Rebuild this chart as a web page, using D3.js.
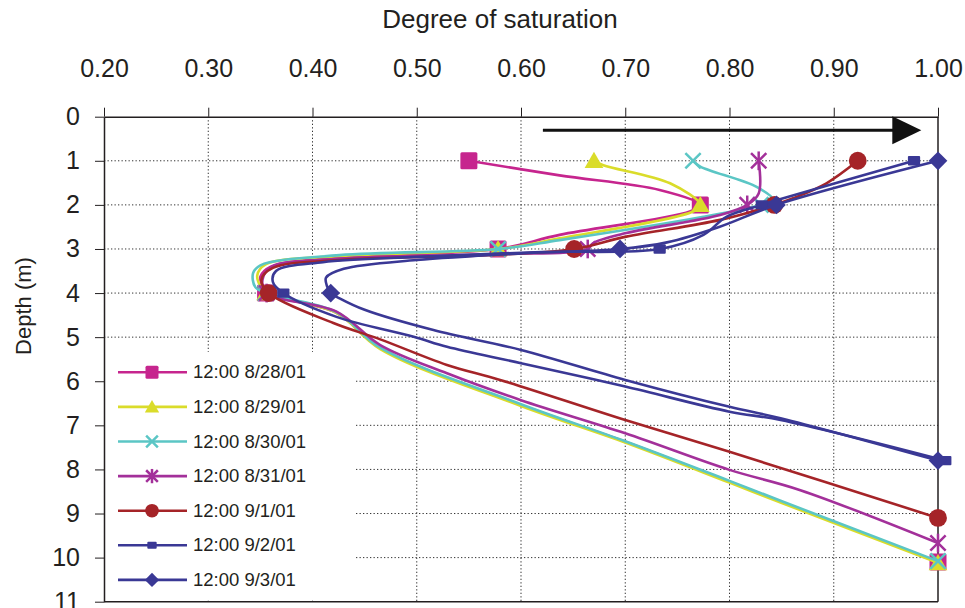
<!DOCTYPE html>
<html>
<head>
<meta charset="utf-8">
<script src="https://cdn.jsdelivr.net/npm/d3@7"></script>
<style>
  body { margin: 0; background: #fff; }
  svg { font-family: "Liberation Sans", Arial, sans-serif; }
  .tick text { fill: #231f20; }
</style>
</head>
<body>
<div id="chart"></div>
<script>
// data: [degree of saturation, depth (m)]
const seriesNames = ['12:00 8/28/01', '12:00 8/29/01', '12:00 8/30/01', '12:00 8/31/01',
    '12:00 9/1/01', '12:00 9/2/01', '12:00 9/3/01'];
const seriesColors = ['#c6258e', '#dadc2a', '#5bc6c5', '#a3309a', '#a52428', '#3a3895', '#3a3895'];
const seriesSymbols = ['square', 'triangle', 'cross', 'asterisk', 'circle', 'smallSquare', 'diamond'];

const line_0828 = [[0.55, 1], [0.637, 1.33], [0.733, 1.66], [0.772, 2], [0.762, 2.15], [0.637, 2.68],
    [0.578, 3], [0.426, 3.2], [0.36, 3.4], [0.35, 3.63], [0.352, 3.85], [0.355, 4], [0.423, 4.45],
    [0.465, 5.25], [0.6, 6.54], [0.7, 7.37], [0.8, 8.28], [0.849, 8.73], [1.0, 10.1]];
const line_0829 = [[0.67, 1], [0.679, 1.1], [0.743, 1.51], [0.772, 2], [0.765, 2.15], [0.637, 2.76],
    [0.578, 3], [0.426, 3.16], [0.355, 3.35], [0.347, 3.6], [0.35, 3.85], [0.355, 4], [0.423, 4.45],
    [0.465, 5.27], [0.6, 6.56], [0.7, 7.39], [0.8, 8.3], [0.849, 8.75], [1.0, 10.12]];
const line_0830 = [[0.765, 1], [0.772, 1.13], [0.826, 1.59], [0.842, 1.89], [0.83, 2], [0.775, 2.27],
    [0.637, 2.8], [0.578, 3], [0.426, 3.14], [0.35, 3.37], [0.343, 3.55], [0.345, 3.86], [0.355, 4],
    [0.423, 4.43], [0.465, 5.24], [0.6, 6.52], [0.7, 7.36], [0.8, 8.26], [0.849, 8.71], [1.0, 10.08]];
const line_0831 = [[0.828, 1], [0.828, 1.74], [0.817, 2], [0.791, 2.23], [0.701, 2.64], [0.669, 2.87],
    [0.664, 3], [0.567, 3.12], [0.426, 3.22], [0.36, 3.42], [0.352, 3.7], [0.356, 4], [0.423, 4.42],
    [0.465, 5.18], [0.529, 5.82], [0.6, 6.43], [0.7, 7.18], [0.8, 8.01], [0.868, 8.47], [1.0, 9.67]];
const line_0901 = [[0.923, 1], [0.893, 1.51], [0.861, 1.85], [0.843, 2], [0.791, 2.34], [0.701, 2.72],
    [0.651, 3], [0.567, 3.14], [0.426, 3.25], [0.362, 3.43], [0.351, 3.7], [0.358, 4], [0.42, 4.68],
    [0.465, 5.05], [0.529, 5.63], [0.58, 5.97], [0.7, 6.88], [0.8, 7.6], [1.0, 9.1]];
const line_0902 = [[0.977, 1], [0.84, 1.93], [0.831, 2], [0.797, 2.27], [0.775, 2.68], [0.733, 3],
    [0.62, 3.07], [0.5, 3.18], [0.41, 3.3], [0.365, 3.5], [0.362, 3.75], [0.372, 4], [0.423, 4.54],
    [0.497, 4.99], [0.529, 5.22], [0.6, 5.59], [0.7, 6.12], [0.8, 6.69], [0.849, 6.88], [1.007, 7.8]];
const line_0903 = [[1.0, 1], [0.845, 2], [0.79, 2.5], [0.74, 2.85], [0.695, 3], [0.6, 3.1],
    [0.5, 3.25], [0.43, 3.45], [0.413, 3.65], [0.414, 3.85], [0.4175, 4], [0.426, 4.12],
    [0.45, 4.38], [0.516, 4.84], [0.6, 5.29], [0.7, 5.97], [0.8, 6.58], [0.849, 6.84], [1.0, 7.8]];

const marks_0828 = [[0.55, 1], [0.772, 2], [0.578, 3], [0.355, 4], [1.0, 10.1]];
const marks_0829 = [[0.67, 1], [0.772, 2], [0.578, 3], [0.355, 4], [1.0, 10.12]];
const marks_0830 = [[0.765, 1], [0.83, 2], [0.578, 3], [0.355, 4], [1.0, 10.08]];
const marks_0831 = [[0.828, 1], [0.817, 2], [0.664, 3], [0.356, 4], [1.0, 9.67]];
const marks_0901 = [[0.923, 1], [0.843, 2], [0.651, 3], [0.358, 4], [1.0, 9.1]];
const marks_0902 = [[0.977, 1], [0.831, 2], [0.733, 3], [0.372, 4], [1.007, 7.8]];
const marks_0903 = [[1.0, 1], [0.845, 2], [0.695, 3], [0.4175, 4], [1.0, 7.8]];

const seriesLines = [line_0828, line_0829, line_0830, line_0831, line_0901, line_0902, line_0903];
const seriesMarks = [marks_0828, marks_0829, marks_0830, marks_0831, marks_0901, marks_0902, marks_0903];

const xTicks = [0.2, 0.3, 0.4, 0.5, 0.6, 0.7, 0.8, 0.9, 1.0];
const yTicks = [0, 1, 2, 3, 4, 5, 6, 7, 8, 9, 10, 11];
const arrowFrom = [0.621, 0.31];
const arrowTo = [0.984, 0.31];

const width = 965;
const height = 608;

const svg = d3.select('#chart').append('svg')
    .attr('width', width)
    .attr('height', height);

const xScale = d3.scaleLinear().domain([0.2, 1.0]).range([104, 938]);
const yScale = d3.scaleLinear().domain([0, 11]).range([116.7, 601.7]);

// dotted grid
const grid = svg.append('g');
grid.selectAll('line.gx').data(xTicks.slice(1, -1))
    .enter().append('line')
    .attr('x1', d => xScale(d)).attr('x2', d => xScale(d))
    .attr('y1', yScale(0)).attr('y2', yScale(11));
grid.selectAll('line.gy').data(yTicks.slice(1, -1))
    .enter().append('line')
    .attr('x1', xScale(0.2)).attr('x2', xScale(1.0))
    .attr('y1', d => yScale(d)).attr('y2', d => yScale(d));
grid.selectAll('line')
    .attr('stroke', '#333')
    .attr('stroke-width', 1)
    .attr('stroke-dasharray', '1.3,2.2');

// legend background hides the grid in the lower left
svg.append('rect')
    .attr('x', xScale(0.2) + 1)
    .attr('y', 352)
    .attr('width', 249)
    .attr('height', yScale(11) - 352 - 1)
    .attr('fill', '#fff');

// frame
svg.append('line')
    .attr('x1', xScale(1.0)).attr('x2', xScale(1.0))
    .attr('y1', yScale(0)).attr('y2', yScale(11))
    .attr('stroke', '#231f20').attr('stroke-width', 1.5);
svg.append('line')
    .attr('x1', xScale(0.2)).attr('x2', xScale(1.0))
    .attr('y1', yScale(11)).attr('y2', yScale(11))
    .attr('stroke', '#231f20').attr('stroke-width', 1.5);

const xAxis = d3.axisTop(xScale)
    .tickValues(xTicks)
    .tickFormat(d3.format('.2f'))
    .tickSize(9)
    .tickSizeOuter(0)
    .tickPadding(31);
const yAxis = d3.axisLeft(yScale)
    .tickValues(yTicks)
    .tickSize(9)
    .tickSizeOuter(0)
    .tickPadding(15);

const xAxisG = svg.append('g')
    .attr('transform', `translate(0,${yScale(0)})`)
    .call(xAxis);
const yAxisG = svg.append('g')
    .attr('transform', `translate(${xScale(0.2)},0)`)
    .call(yAxis);

[xAxisG, yAxisG].forEach(g => {
    g.select('.domain').attr('stroke', '#231f20').attr('stroke-width', 1.5);
    g.selectAll('.tick line').attr('stroke', '#231f20').attr('stroke-width', 1);
    g.selectAll('.tick text').style('font-size', '25px');
});

svg.append('text')
    .attr('x', 500)
    .attr('y', 28)
    .attr('text-anchor', 'middle')
    .style('font-size', '26px')
    .attr('fill', '#231f20')
    .text('Degree of saturation');

svg.append('text')
    .attr('transform', 'translate(31,306) rotate(-90)')
    .attr('text-anchor', 'middle')
    .style('font-size', '22px')
    .attr('fill', '#231f20')
    .text('Depth (m)');

// arrow
svg.append('line')
    .attr('x1', xScale(arrowFrom[0])).attr('y1', yScale(arrowFrom[1]))
    .attr('x2', xScale(arrowTo[0]) - 28).attr('y2', yScale(arrowTo[1]))
    .attr('stroke', '#111').attr('stroke-width', 3);
svg.append('path')
    .attr('d', `M${xScale(arrowTo[0])},${yScale(arrowTo[1])} l-29,-14 l0,28 z`)
    .attr('fill', '#111');

// markers
function drawSymbol(g, type, color, s) {
    const h = s / 2;
    if (type === 'square') {
        g.append('rect').attr('x', -h).attr('y', -h).attr('width', s).attr('height', s)
            .attr('rx', 1.5).attr('fill', color);
    } else if (type === 'smallSquare') {
        g.append('rect').attr('x', -h * 0.72).attr('y', -h * 0.55)
            .attr('width', s * 0.72).attr('height', s * 0.55)
            .attr('rx', 1).attr('fill', color);
    } else if (type === 'triangle') {
        g.append('path').attr('d', `M0,${-h * 1.05}L${h * 1.1},${h * 0.85}L${-h * 1.1},${h * 0.85}Z`)
            .attr('fill', color);
    } else if (type === 'circle') {
        g.append('circle').attr('r', h * 1.05).attr('fill', color);
    } else if (type === 'diamond') {
        g.append('path').attr('d', `M0,${-h * 1.1}L${h * 1.1},0L0,${h * 1.1}L${-h * 1.1},0Z`)
            .attr('fill', color);
    } else {
        const k = h * 0.9;
        g.append('path').attr('d', `M${-k},${-k}L${k},${k}M${-k},${k}L${k},${-k}`)
            .attr('stroke', color).attr('stroke-width', 2.5).attr('fill', 'none');
        if (type === 'asterisk') {
            g.append('path').attr('d', `M0,${-h * 1.1}L0,${h * 1.1}`)
                .attr('stroke', color).attr('stroke-width', 2.5);
        }
    }
}

const line = d3.line()
    .x(d => xScale(d[0]))
    .y(d => yScale(d[1]))
    .curve(d3.curveCatmullRom.alpha(0.5));

const plot = svg.append('g');
seriesNames.forEach((name, i) => {
    const g = plot.append('g');
    g.append('path')
        .datum(seriesLines[i])
        .attr('d', line)
        .attr('fill', 'none')
        .attr('stroke', seriesColors[i])
        .attr('stroke-width', 2.6)
        .attr('stroke-linejoin', 'round');
    g.selectAll('g.mark').data(seriesMarks[i])
        .enter().append('g')
        .attr('transform', d => `translate(${xScale(d[0])},${yScale(d[1])})`)
        .each(function () { drawSymbol(d3.select(this), seriesSymbols[i], seriesColors[i], 17); });
});

// legend
const legend = svg.append('g');
seriesNames.forEach((name, i) => {
    const y = 372.3 + i * 34.6;
    const row = legend.append('g').attr('transform', `translate(0,${y})`);
    row.append('line')
        .attr('x1', 118).attr('x2', 187)
        .attr('stroke', seriesColors[i]).attr('stroke-width', 2.6);
    drawSymbol(row.append('g').attr('transform', 'translate(152,0)'), seriesSymbols[i], seriesColors[i], 13);
    row.append('text')
        .attr('x', 193)
        .attr('y', 0)
        .attr('dy', '0.33em')
        .style('font-size', '18.5px')
        .attr('fill', '#231f20')
        .text(name);
});
</script>
</body>
</html>
